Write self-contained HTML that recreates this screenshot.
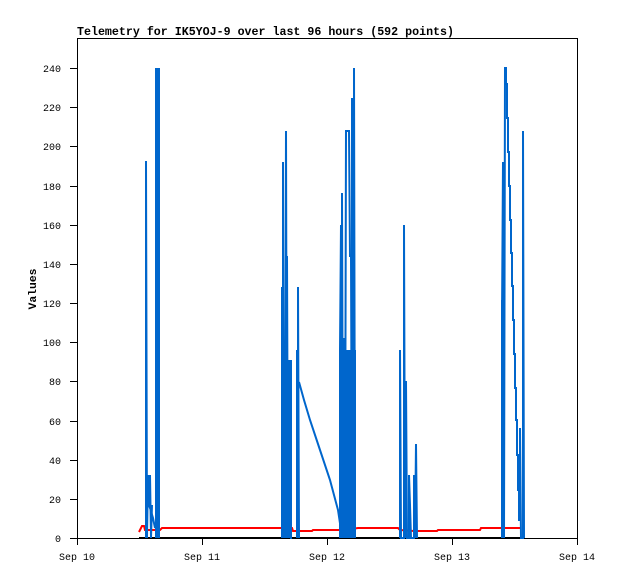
<!DOCTYPE html>
<html><head><style>body{margin:0;background:#fff}svg{display:block}</style></head><body>
<svg width="618" height="579" xmlns="http://www.w3.org/2000/svg" font-family="Liberation Mono, monospace">
<rect width="618" height="579" fill="#fff"/>
<text x="77" y="35" font-weight="bold" font-size="11.6" textLength="377" lengthAdjust="spacingAndGlyphs">Telemetry for IK5YOJ-9 over last 96 hours (592 points)</text>
<rect x="77.5" y="38.5" width="500" height="500" fill="none" stroke="#000" stroke-width="1"/>
<g stroke="#000" stroke-width="1">
<line x1="70" y1="538.5" x2="77" y2="538.5"/><line x1="70" y1="499.5" x2="77" y2="499.5"/><line x1="70" y1="460.5" x2="77" y2="460.5"/><line x1="70" y1="421.5" x2="77" y2="421.5"/><line x1="70" y1="381.5" x2="77" y2="381.5"/><line x1="70" y1="342.5" x2="77" y2="342.5"/><line x1="70" y1="303.5" x2="77" y2="303.5"/><line x1="70" y1="264.5" x2="77" y2="264.5"/><line x1="70" y1="225.5" x2="77" y2="225.5"/><line x1="70" y1="186.5" x2="77" y2="186.5"/><line x1="70" y1="146.5" x2="77" y2="146.5"/><line x1="70" y1="107.5" x2="77" y2="107.5"/><line x1="70" y1="68.5" x2="77" y2="68.5"/>
<line x1="77.5" y1="538" x2="77.5" y2="545"/><line x1="202.5" y1="538" x2="202.5" y2="545"/><line x1="327.5" y1="538" x2="327.5" y2="545"/><line x1="452.5" y1="538" x2="452.5" y2="545"/><line x1="577.5" y1="538" x2="577.5" y2="545"/>
</g>
<g font-size="10" text-anchor="end">
<text x="61" y="542">0</text><text x="61" y="503">20</text><text x="61" y="464">40</text><text x="61" y="425">60</text><text x="61" y="385">80</text><text x="61" y="346">100</text><text x="61" y="307">120</text><text x="61" y="268">140</text><text x="61" y="229">160</text><text x="61" y="190">180</text><text x="61" y="150">200</text><text x="61" y="111">220</text><text x="61" y="72">240</text>
</g>
<g font-size="10" text-anchor="middle">
<text x="77" y="560">Sep 10</text><text x="202" y="560">Sep 11</text><text x="327" y="560">Sep 12</text><text x="452" y="560">Sep 13</text><text x="577" y="560">Sep 14</text>
</g>
<text transform="translate(36,289) rotate(-90)" font-weight="bold" font-size="11.4" text-anchor="middle">Values</text>
<line x1="139" y1="538" x2="521" y2="538" stroke="#000" stroke-width="2"/>
<polyline fill="none" stroke="#f00" stroke-width="2" points="139,532 142,526 144,526 145,530 160,530 162,528 292,528 293,531 312,531 313,530 340,530 345,530 358,528 398,528 400,530 414,531 437,531 438,530 480,530 481,528 520,528"/>
<g fill="#0066cc">
<rect x="155" y="68" width="5" height="470"/>
<rect x="281" y="360" width="11" height="178"/>
<rect x="339" y="350" width="17" height="188"/>
<rect x="501" y="300" width="4" height="238"/>
</g>
<g fill="none" stroke="#0066cc" stroke-width="2">
<polyline points="146,538 146,161 147,538 148,475 149,504 150,475 151,538 152,505"/>
<polyline points="147,500 150,508 153,518 155,528"/>
<polyline points="282,538 282,287 283,538 283,162 284,538 284,412 285,538 286,131 287,538 287,256 288,538 290,396 291,538 292,538"/>
<polyline points="297,538 297,350 298,538 298,287 299,538"/>
<polyline points="299,382 304,400 310,420 320,450 330,480 338,510 341,530"/>
<polyline points="340,538 340,350 341,225 342,538 342,193 343,538 344,338 345,538 346,131 347,131 348,131 349,131 350,256 351,256 352,538 352,99 353,99 354,538 354,68 355,538"/>
<polyline points="400,538 400,350 401,538 404,538 404,225 405,538 406,381 407,538 409,538 409,475 410,505 411,538 414,538 414,475 415,538 416,444 417,538"/>
<polyline points="502,538 502,317 503,162 504,538 505,68 506,68 506,84 507,84 507,118 508,118 508,152 509,152 509,186 510,186 510,220 511,220 511,253 512,253 512,286 513,286 513,320 514,320 514,354 515,354 515,388 516,388 516,420 517,420 517,455 518,455 518,490 519,490 519,520 520,520 520,428 521,538 523,538 523,131 524,538"/>
</g>
</svg>
</body></html>
